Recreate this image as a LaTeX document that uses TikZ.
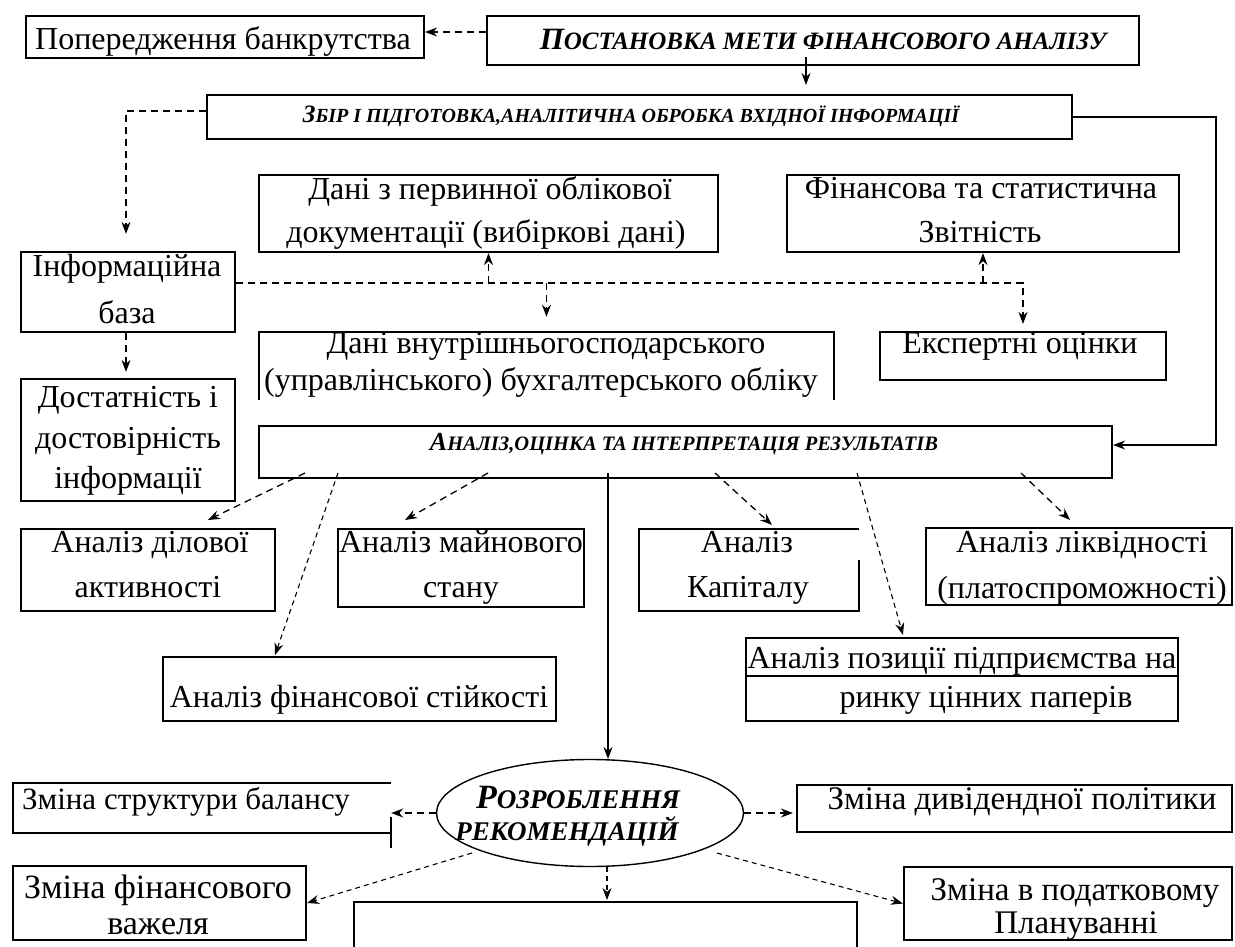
\documentclass[tikz,border=0pt]{standalone}
\usepackage{fontspec}
\setmainfont{Liberation Serif}
\newfontfamily\tnr{Liberation Serif}
\usetikzlibrary{arrows.meta,shapes.geometric,fit,calc}
\newcommand{\bodyfont}{\tnr\fontsize{32}{38}\selectfont}
\newcommand{\lowfont}{\tnr\fontsize{33}{38}\selectfont}
\newcommand{\hdtext}[4]{{\tnr\bfseries\itshape\fontsize{#1}{#1}\selectfont #3\fontsize{#2}{#2}\selectfont #4}}
\tikzset{
  frame/.style={draw, line width=2.2pt, inner sep=0pt, rectangle},
  ghost/.style={inner sep=0pt, rectangle},
  edge3/.style={line width=2.2pt},
  tx/.style={inner sep=0pt, anchor=base, font=\bodyfont},
  txl/.style={tx, font=\lowfont},
  con/.style={line width=1.3pt},
  arr/.style={con, -{Stealth[length=12pt,width=9pt]}},
  darr/.style={arr, dash pattern=on 7pt off 5pt},
  farr/.style={arr, line width=1.1pt, dash pattern=on 5pt off 4pt},
}
\begin{document}
\begin{tikzpicture}[x=1pt,y=-1pt]
\fill[white] (0,0) rectangle (1235,947);
\useasboundingbox (0,0) rectangle (1235,947);

% ---------- boxes ----------
\node[frame, fit={(26,16) (424,58)}] (bank) {};
\node[frame, fit={(487,16) (1139,65)}] (goal) {};
\node[frame, fit={(207,95) (1072,139)}] (coll) {};
\node[frame, fit={(21,252) (235,332)}] (info) {};
\node[frame, fit={(21,379) (235,501)}] (suff) {};
\node[frame, fit={(259,175) (718,252)}] (prim) {};
\node[frame, fit={(787,175) (1179,252)}] (fin) {};
\node[ghost, fit={(259,332) (834,400)}] (intl) {};
\draw[edge3] (intl.south west) -- (intl.north west) -- (intl.north east) -- (intl.south east);
\node[frame, fit={(880,332) (1166,380)}] (expt) {};
\node[frame, fit={(259,426) (1112,478)}] (anal) {};
\node[frame, fit={(21,529) (275,611)}] (bact) {};
\node[frame, fit={(338,529) (584,607)}] (prop) {};
\node[frame, fit={(163,657) (556,721)}] (fstab) {};
\node[ghost, fit={(639,529) (859,611)}] (capt) {};
\draw[edge3] ([yshift=51pt]capt.south east) -- (capt.south east) -- (capt.south west) -- (capt.north west) -- (capt.north east);
\node[frame, fit={(926,528) (1232,605)}] (liq) {};
\node[frame, fit={(746,638) (1178,721)}] (pos) {};
\coordinate (posmid) at (0,676);
\draw[con] (pos.west |- posmid) -- (pos.east |- posmid);
\node[draw, ellipse, line width=1.4pt, minimum width=307pt, minimum height=107pt, inner sep=0pt] (rec) at (590,813) {};
\node[ghost, fit={(13,783) (391,833)}] (strc) {};
\draw[edge3] (strc.north east) -- (strc.north west) -- (strc.south west) -- (strc.south east);
\draw[edge3] ([yshift=16pt]strc.south east) -- ([yshift=-15pt]strc.south east);
\node[frame, fit={(13,866) (306,940)}] (lev) {};
\node[frame, fit={(797,785) (1232,832)}] (divd) {};
\node[frame, fit={(904,867) (1232,940)}] (tax) {};
\node[ghost, fit={(354,902) (857,947)}] (empt) {};
\draw[edge3] (empt.south west) -- (empt.north west) -- (empt.north east) -- (empt.south east);

% ---------- texts ----------
\node[tx] (bankT) at (223,50) {Попередження банкрутства};
\node[tx] (goalT) at (823,50) {\hdtext{31}{25}{П}{ОСТАНОВКА МЕТИ ФІНАНСОВОГО АНАЛІЗУ}};
\node[tx] (collT) at (631,123) {\hdtext{25}{20}{З}{БІР І ПІДГОТОВКА,АНАЛІТИЧНА ОБРОБКА ВХІДНОЇ ІНФОРМАЦІЇ}};
\node[tx] (infoT1) at (127,276) {Інформаційна};
\node[tx] (infoT2) at (127,323) {база};
\node[tx] (suffT1) at (128,407) {Достатність і};
\node[tx] (suffT2) at (128,448) {достовірність};
\node[tx] (suffT3) at (128,488) {інформації};
\node[tx] (primT1) at (490,200) {Дані з первинної облікової};
\node[tx] (primT2) at (486,242) {документації (вибіркові дані)};
\node[tx] (finT1) at (981,198) {Фінансова та статистична};
\node[tx] (finT2) at (980,242) {Звітність};
\node[tx] (intlT1) at (546,353) {Дані внутрішньогосподарського};
\node[tx] (intlT2) at (541,390) {(управлінського) бухгалтерського обліку};
\node[tx] (exptT) at (1020,353) {Експертні оцінки};
\node[tx] (analT) at (684,450) {\hdtext{26}{20.5}{А}{НАЛІЗ,ОЦІНКА ТА ІНТЕРПРЕТАЦІЯ РЕЗУЛЬТАТІВ}};
\node[tx] (bactT1) at (150,552) {Аналіз ділової};
\node[tx] (bactT2) at (148,597) {активності};
\node[tx] (propT1) at (461,552) {Аналіз майнового};
\node[tx] (propT2) at (461,597) {стану};
\node[tx] (fstabT) at (359,707) {Аналіз фінансової стійкості};
\node[tx] (captT1) at (747,552) {Аналіз};
\node[tx] (captT2) at (748,597) {Капіталу};
\node[tx] (liqT1) at (1082,552) {Аналіз ліквідності};
\node[tx] (liqT2) at (1082,598) {(платоспроможності)};
\node[tx] (posT1) at (962,668) {Аналіз позиції підприємства на};
\node[tx] (posT2) at (986,707) {ринку цінних паперів};
\node[tx] (recT1) at (578,808) {\hdtext{34}{27}{Р}{ОЗРОБЛЕННЯ}};
\node[tx] (recT2) at (567,840) {\hdtext{27}{27}{}{РЕКОМЕНДАЦІЙ}};
\node[tx, font=\tnr\fontsize{31}{38}\selectfont] (strcT) at (186,809) {Зміна структури балансу};
\node[tx, font=\tnr\fontsize{34}{38}\selectfont] (levT1) at (158,898) {Зміна фінансового};
\node[tx, font=\tnr\fontsize{34}{38}\selectfont] (levT2) at (158,934) {важеля};
\node[txl] (divdT) at (1022,809) {Зміна дивідендної політики};
\node[txl] (taxT1) at (1075,900) {Зміна в податковому};
\node[txl] (taxT2) at (1076,933) {Плануванні};

% ---------- helper coordinates ----------
\coordinate (h32) at (0,32);
\coordinate (gs) at (806,57);
\coordinate (gt) at (806,85);
\coordinate (cL) at (126,111);
\coordinate (hb) at (235,283);
\coordinate (rt) at (1216,117);
\coordinate (rb) at (1216,445);
\coordinate (a1) at (305,473);  \coordinate (b1) at (208,520);
\coordinate (a2) at (338,473);  \coordinate (b2) at (275,655);
\coordinate (a3) at (488,473);  \coordinate (b3) at (405,520);
\coordinate (a4) at (715,473);  \coordinate (b4) at (772,525);
\coordinate (a5) at (857,473);  \coordinate (b5) at (903,635);
\coordinate (a6) at (1021,473); \coordinate (b6) at (1070,520);
\coordinate (a7) at (608,473);  \coordinate (b7) at (608,759);
\coordinate (e1) at (472,853);
\coordinate (e2) at (717,853);
\coordinate (e3) at (607,867);  \coordinate (f3) at (607,900);

% ---------- connectors ----------
\draw[darr] (goal.west |- h32) -- (bank.east |- h32);
\draw[arr] (gs) -- (gt);
\draw[darr] (coll.west |- cL) -- (cL) -- ([yshift=17pt]info.north -| cL);
\draw[darr] (info.south -| cL) -- ([yshift=6pt]suff.north -| cL);
\draw[darr] (info.east |- hb) -| ([yshift=7pt]expt.north);
\draw[darr] (prim.south |- hb) -- (prim.south);
\draw[darr] (fin.south |- hb) -- (fin.south);
\draw[darr] (intl.north |- hb) -- ([yshift=15pt]intl.north);
\draw[arr] (coll.east |- rt) -- (rt) -- (rb) -- (anal.east |- rb);
\draw[darr] (a1) -- (b1);
\draw[farr] (a2) -- (b2);
\draw[darr] (a3) -- (b3);
\draw[darr] (a4) -- (b4);
\draw[farr] (a5) -- (b5);
\draw[darr] (a6) -- (b6);
\draw[arr] (a7) -- (b7);
\draw[darr] (rec.west) -- (strc.east |- rec.west);
\draw[darr] (rec.east) -- ([xshift=-3pt]divd.west |- rec.east);
\draw[farr] (e1) -- (lev.east);
\draw[farr] (e2) -- (tax.west);
\draw[farr] (e3) -- (f3);
\end{tikzpicture}
\end{document}
